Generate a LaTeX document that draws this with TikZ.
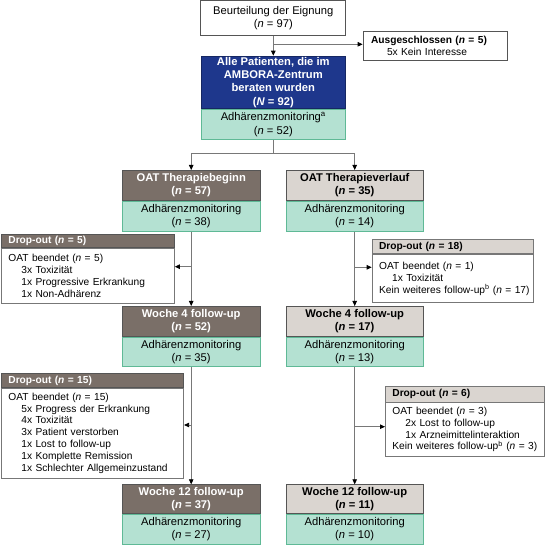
\documentclass[tikz,border=0pt]{standalone}
\usepackage{fontspec}
\setmainfont{Liberation Sans}
\usetikzlibrary{arrows.meta}
\definecolor{navy}{RGB}{30,55,140}
\definecolor{darkhd}{RGB}{122,111,104}
\definecolor{lighthd}{RGB}{218,213,208}
\definecolor{mint}{RGB}{180,225,210}
\definecolor{mintb}{RGB}{95,185,150}
\definecolor{edge}{RGB}{85,85,85}
\definecolor{conn}{RGB}{120,120,120}
\newcommand\fmain{\fontsize{11.2}{13.3}\selectfont}
\newcommand\fsmall{\fontsize{10.2}{11.9}\selectfont}
\begin{document}
\begin{tikzpicture}[x=1pt,y=-1pt,
  box/.style={draw=edge, line width=0.8pt, inner sep=0pt, align=center, font=\fmain, minimum width=137.5pt, minimum height=30pt},
  hdark/.style={box, fill=darkhd, text=white, font=\fmain\bfseries},
  hlight/.style={box, fill=lighthd, font=\fmain\bfseries},
  mon/.style={box, fill=mint, draw=mintb},
  dhdark/.style={draw=edge, line width=0.8pt, fill=darkhd, text=white, font=\fsmall\bfseries, inner xsep=7pt, inner ysep=0pt, align=left, anchor=north west, text width=#1},
  dhlight/.style={draw=edge!80, line width=0.8pt, fill=lighthd, font=\fsmall\bfseries, inner xsep=7pt, inner ysep=0pt, align=left, anchor=north west, text width=#1},
  dbody/.style={draw=edge!80, line width=0.8pt, fill=white, font=\fsmall, inner xsep=7pt, inner ysep=0pt, align=left, anchor=north west, text width=#1},
  ln/.style={draw=conn, line width=0.8pt},
  arr/.style={draw=conn, line width=0.8pt, -{Triangle[length=5pt,width=4.5pt,color=black]}}
]
\useasboundingbox (0,0) rectangle (546,545);
\fill[white] (0,0) rectangle (546,545);

% top
\node[box, minimum width=145pt, minimum height=35pt, fill=white] (elig) at (273.3,18) {Beurteilung der Eignung\\(\textit{n} = 97)};
\node[draw=edge, line width=0.8pt, fill=white, font=\fsmall, align=left, inner xsep=8pt, inner ysep=0pt, text width=128pt, minimum height=29pt] (ausg) at (435,45.5) {\textbf{Ausgeschlossen (\textit{n} = 5)}\\\hspace*{16pt}5x Kein Interesse};

\node[box, fill=navy, draw=navy!70!black, text=white, font=\fmain\bfseries, minimum width=144pt, minimum height=52.6pt, anchor=north] (all) at (273.3,55.7) {Alle Patienten, die im\\AMBORA-Zentrum\\beraten wurden\\(\textit{N} = 92)};
\node[mon, minimum width=144pt, anchor=north] (allm) at (all.south) {Adhärenzmonitoring\textsuperscript{a}\\(\textit{n} = 52)};

% OAT boxes
\node[hdark, anchor=north] (oat1) at (191.2,170) {OAT Therapiebeginn\\(\textit{n} = 57)};
\node[mon, anchor=north] (oat1m) at (oat1.south) {Adhärenzmonitoring\\(\textit{n} = 38)};
\node[hlight, anchor=north] (oat2) at (354.7,170) {OAT Therapieverlauf\\(\textit{n} = 35)};
\node[mon, anchor=north] (oat2m) at (oat2.south) {Adhärenzmonitoring\\(\textit{n} = 14)};

% week 4
\node[hdark, anchor=north] (w4a) at (191.2,306) {Woche 4 follow-up\\(\textit{n} = 52)};
\node[mon, anchor=north, minimum height=29.5pt] (w4am) at (w4a.south) {Adhärenzmonitoring\\(\textit{n} = 35)};
\node[hlight, anchor=north] (w4b) at (354.7,306) {Woche 4 follow-up\\(\textit{n} = 17)};
\node[mon, anchor=north, minimum height=29.5pt] (w4bm) at (w4b.south) {Adhärenzmonitoring\\(\textit{n} = 13)};

% week 12
\node[hdark, anchor=north, minimum height=29pt] (w12a) at (191.2,484.3) {Woche 12 follow-up\\(\textit{n} = 37)};
\node[mon, anchor=north, minimum height=29.5pt] (w12am) at (w12a.south) {Adhärenzmonitoring\\(\textit{n} = 27)};
\node[hlight, anchor=north, minimum height=29pt] (w12b) at (354.7,484.3) {Woche 12 follow-up\\(\textit{n} = 11)};
\node[mon, anchor=north, minimum height=29.5pt] (w12bm) at (w12b.south) {Adhärenzmonitoring\\(\textit{n} = 10)};

% drop-outs
\node[dhdark=159pt, minimum height=13pt] (d1h) at (1,234) {Drop-out (\textit{n} = 5)};
\node[dbody=159pt, minimum height=55pt] (d1b) at (d1h.south west) {OAT beendet (\textit{n} = 5)\\\hspace*{13pt}3x Toxizität\\\hspace*{13pt}1x Progressive Erkrankung\\\hspace*{13pt}1x Non-Adhärenz};

\node[dhlight=147.6pt, minimum height=14pt] (d2h) at (371.7,239.3) {Drop-out (\textit{n} = 18)};
\node[dbody=147.6pt, minimum height=48.4pt] (d2b) at (d2h.south west) {OAT beendet (\textit{n} = 1)\\\hspace*{13pt}1x Toxizität\\\mbox{Kein weiteres follow-up\textsuperscript{b} (\textit{n} = 17)}};

\node[dhdark=168.3pt, minimum height=14.6pt] (d3h) at (1,372.7) {Drop-out (\textit{n} = 15)};
\node[dbody=168.3pt, minimum height=89.4pt] (d3b) at (d3h.south west) {OAT beendet (\textit{n} = 15)\\\hspace*{13pt}5x Progress der Erkrankung\\\hspace*{13pt}4x Toxizität\\\hspace*{13pt}3x Patient verstorben\\\hspace*{13pt}1x Lost to follow-up\\\hspace*{13pt}1x Komplette Remission\\\hspace*{13pt}1x Schlechter Allgemeinzustand};

\node[dhlight=145pt, minimum height=16pt] (d4h) at (385,385.5) {Drop-out (\textit{n} = 6)};
\node[dbody=145pt, minimum height=53.5pt] (d4b) at (d4h.south west) {OAT beendet (\textit{n} = 3)\\\hspace*{13pt}2x Lost to follow-up\\\hspace*{13pt}1x Arzneimittelinteraktion\\\mbox{Kein weiteres follow-up\textsuperscript{b} (\textit{n} = 3)}};

% connectors
\draw[arr] (elig.south) -- (all.north);
\coordinate (c0) at (273.3,44.3);
\draw[arr] (c0) -- (ausg.west |- c0);
\coordinate (c1) at (273.3,153.3);
\draw[ln] (allm.south) -- (c1);
\draw[arr] (c1) -| (oat1.north);
\draw[arr] (c1) -| (oat2.north);

\draw[arr] (oat1m.south) -- (w4a.north);
\coordinate (c2) at (191.2,266.7);
\draw[arr] (c2) -- (d1b.east |- c2);
\draw[arr] (w4am.south) -- (w12a.north);
\coordinate (c3) at (191.2,425);
\draw[arr] (c3) -- (d3b.east |- c3);

\draw[arr] (oat2m.south) -- (w4b.north);
\coordinate (c4) at (354.7,267.3);
\draw[arr] (c4) -- (d2b.west |- c4);
\draw[arr] (w4bm.south) -- (w12b.north);
\coordinate (c5) at (354.7,426.7);
\draw[arr] (c5) -- (d4b.west |- c5);
\end{tikzpicture}
\end{document}
